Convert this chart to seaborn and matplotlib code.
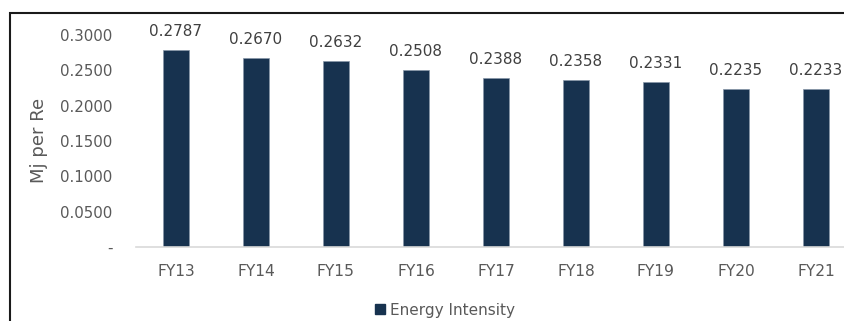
import matplotlib
matplotlib.use("Agg")
import matplotlib.pyplot as plt
import seaborn as sns
import pandas as pd
from matplotlib.patches import Rectangle, Patch

categories = ["FY13", "FY14", "FY15", "FY16", "FY17", "FY18", "FY19", "FY20", "FY21"]
values = [0.2787, 0.2670, 0.2632, 0.2508, 0.2388, 0.2358, 0.2331, 0.2235, 0.2233]
yticks = [0, 0.05, 0.10, 0.15, 0.20, 0.25, 0.30]
ytick_labels = ["-", "0.0500", "0.1000", "0.1500", "0.2000", "0.2500", "0.3000"]
series_name = "Energy Intensity"

df = pd.DataFrame({"cat": categories, "val": values})

sns.set_theme(style="white")
plt.rcParams["font.family"] = ["DejaVu Sans"]

W, H = 845, 321
fig = plt.figure(figsize=(W / 100, H / 100), dpi=100)
left = 136 / W
right = 856 / W
bottom = (H - 247) / H
top_px = 247 - 0.32 * (212 / 0.30)
ax = fig.add_axes([left, bottom, right - left, (247 - top_px) / H])

color = "#17324F"
sns.barplot(data=df, x="cat", y="val", color=color, width=0.33, ax=ax,
            saturation=1, edgecolor="#8796A8", linewidth=0.5)
ax.set_xlim(-0.5, len(categories) - 0.5)
ax.set_ylim(0, 0.32)
ax.set_yticks(yticks)
ax.set_yticklabels(ytick_labels)
ax.set_xlabel("")
ax.set_ylabel("Mj per Re", fontsize=13, color="#595959")
ax.yaxis.set_label_coords(-88 / 720, 0.473)
for s in ["top", "right", "left"]:
    ax.spines[s].set_visible(False)
ax.spines["bottom"].set_color("#D9D9D9")
ax.spines["bottom"].set_linewidth(1.2)
ax.tick_params(axis="y", length=0, pad=17, labelsize=10.8, labelcolor="#595959")
ax.tick_params(axis="x", length=0, pad=12, labelsize=11.2, labelcolor="#595959")

for c in ax.containers:
    ax.bar_label(c, labels=[f"{v:.4f}" for v in values], padding=8,
                 fontsize=11, color="#404040")

handle = Patch(facecolor=color, edgecolor=color)
fig.legend([handle], [series_name], loc="center", bbox_to_anchor=(445 / W, 1 - 310 / H),
           frameon=False, fontsize=11, handlelength=0.65, handleheight=0.65,
           handletextpad=0.3, labelcolor="#595959")

# outer frame
fig.patches.append(Rectangle((10 / W, -0.1), 1.2, 1 - 13 / H + 0.1, transform=fig.transFigure,
                             fill=False, edgecolor="#1a1a1a", linewidth=1.5, zorder=10))

fig.savefig("out.png", dpi=100)
